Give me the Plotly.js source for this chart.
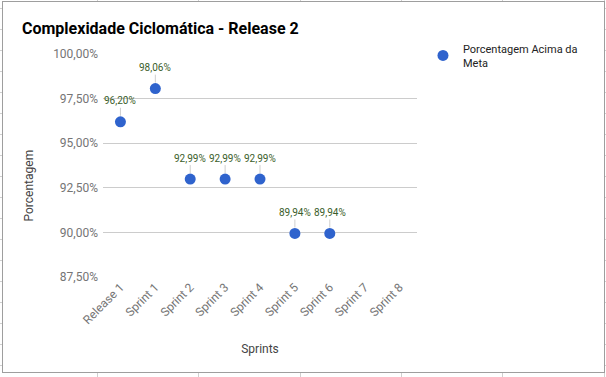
<!DOCTYPE html>
<html>
<head>
<meta charset="utf-8">
<script src="https://cdn.plot.ly/plotly-3.0.1.min.js"></script>
<style>
  html, body { margin: 0; padding: 0; width: 606px; height: 377px; overflow: hidden; }
  body {
    background-color: #fff;
    background-image:
      repeating-linear-gradient(to right, transparent 0, transparent 97px, #d0d0d0 97px, #d0d0d0 98px, transparent 98px, transparent 101.3px),
      repeating-linear-gradient(to bottom, transparent 0, transparent 8px, #d0d0d0 8px, #d0d0d0 9px, transparent 9px, transparent 21px);
  }
  #frame { position: absolute; left: 2px; top: 1px; width: 601px; height: 370px;
           border: 1.5px solid #9e9e9e; background: #fff; }
  #chart { position: absolute; left: 0; top: 0; width: 606px; height: 377px; }
</style>
</head>
<body>
<div id="frame"></div>
<div id="chart"></div>
<script>
const categories = ["Release 1", "Sprint 1", "Sprint 2", "Sprint 3", "Sprint 4", "Sprint 5", "Sprint 6", "Sprint 7", "Sprint 8"];
const percentAboveGoal = [96.20, 98.06, 92.99, 92.99, 92.99, 89.94, 89.94, null, null];
const seriesName = "Porcentagem Acima da<br>Meta";
const yTicks = [87.5, 90, 92.5, 95, 97.5, 100];

const fmt = v => v.toFixed(2).replace('.', ',') + '%';

const labelAnnotations = categories.map((c, i) => percentAboveGoal[i] == null ? null : ({
  x: c, y: percentAboveGoal[i], xref: 'x', yref: 'y',
  text: fmt(percentAboveGoal[i]),
  showarrow: true, arrowhead: 0, arrowwidth: 1, arrowcolor: '#cfcfcf',
  ax: 0, ay: -21, standoff: 6, startstandoff: 0,
  font: { family: 'Roboto, Arial, sans-serif', size: 10, color: '#3b5e2b' }
})).filter(a => a);

const trace = {
  type: 'scatter', mode: 'markers',
  x: categories, y: percentAboveGoal,
  name: seriesName,
  marker: { color: '#2f63cd', size: 11 },
  showlegend: true,
  hoverinfo: 'x+y'
};

const layout = {
  width: 606, height: 377,
  paper_bgcolor: 'rgba(0,0,0,0)', plot_bgcolor: 'rgba(0,0,0,0)',
  margin: { l: 102.5, r: 188.5, t: 54, b: 100, pad: 0 },
  separators: ',.',
  font: { family: 'Roboto, Arial, sans-serif', size: 12, color: '#757575' },
  title: { text: 'Complexidade Ciclomática - Release 2',
           x: 22 / 606, xref: 'container', xanchor: 'left',
           y: 1 - 28 / 377, yref: 'container', yanchor: 'middle',
           font: { family: 'Roboto, Arial, sans-serif', size: 16, color: '#000', weight: 'bold' } },
  xaxis: {
    type: 'category', categoryorder: 'array', categoryarray: categories,
    range: [-0.5, categories.length - 0.5],
    showgrid: false, zeroline: false, showline: false, ticks: '',
    tickangle: -45, tickfont: { size: 12, color: '#757575' },
    title: { text: 'Sprints', font: { size: 12, color: '#444' }, standoff: 18 }
  },
  yaxis: {
    range: [87.5, 100], tickmode: 'array', tickvals: yTicks, ticktext: yTicks.map(fmt),
    showgrid: true, gridcolor: '#cccccc', gridwidth: 1, zeroline: false, showline: false,
    ticks: '', ticklabelstandoff: 4,
    tickfont: { size: 12, color: '#757575' }
  },
  legend: {
    x: 1 + (423.5 - 417.5) / 315, y: 1.087, xanchor: 'left', yanchor: 'top',
    font: { size: 11, color: '#222' }, bgcolor: 'rgba(0,0,0,0)',
    itemwidth: 30
  },
  annotations: labelAnnotations.concat([{
    text: 'Porcentagem', textangle: -90, showarrow: false,
    xref: 'paper', yref: 'paper', x: -0.236, y: 0.41, xanchor: 'center', yanchor: 'middle',
    font: { size: 12, color: '#444' }
  }])
};

Plotly.newPlot('chart', [trace], layout, { displayModeBar: false, staticPlot: true });
</script>
</body>
</html>
